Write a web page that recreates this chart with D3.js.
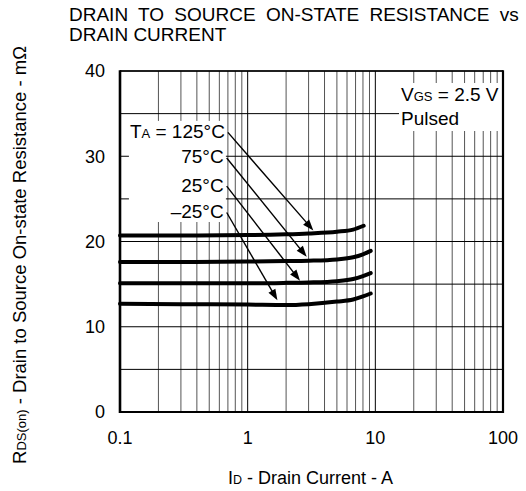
<!DOCTYPE html>
<html>
<head>
<meta charset="utf-8">
<script src="https://cdn.jsdelivr.net/npm/d3@7"></script>
<style>
  html, body { margin: 0; padding: 0; background: #fff; }
  svg { display: block; font-family: "Liberation Sans", Arial, Helvetica, sans-serif; }
</style>
</head>
<body>
<svg id="chart" width="526" height="491"></svg>
<script>
// ---- data ----
const titleLines = ["DRAIN TO SOURCE ON-STATE RESISTANCE vs", "DRAIN CURRENT"];
const xTicks = [0.1, 1, 10, 100];
const xTickLabels = ["0.1", "1", "10", "100"];
const yTicks = [0, 10, 20, 30, 40];
const yGrid = [0, 5, 10, 15, 20, 25, 30, 35, 40];
const temps = ["125°C", "75°C", "25°C", "–25°C"];

const id125 = [0.1, 0.3, 1, 2, 3, 5, 6.7, 8.1];
const rds125 = [20.7, 20.7, 20.75, 20.85, 20.95, 21.15, 21.4, 21.85];
const idLow = [0.1, 0.3, 1, 2, 3, 5, 6.7, 8, 9.2];
const rds75 = [17.6, 17.6, 17.65, 17.7, 17.75, 17.9, 18.15, 18.5, 18.9];
const rds25 = [15.1, 15.1, 15.1, 15.15, 15.2, 15.35, 15.6, 15.95, 16.3];
const rdsM25 = [12.7, 12.65, 12.6, 12.55, 12.65, 12.95, 13.2, 13.55, 13.9];

const arrowFromId = [0.70, 0.685, 0.685, 0.685];
const arrowFromR = [32.8, 29.8, 26.5, 23.4];
const arrowToId = [3.27, 2.90, 2.57, 1.71];
const arrowToR = [21.3, 18.2, 15.4, 13.1];

(function () {
// ---- layout ----
const svg = d3.select("#chart");
const pL = 120, pR = 503, pT = 71, pB = 412;
const x = d3.scaleLog().domain([0.1, 100]).range([pL, pR]);
const y = d3.scaleLinear().domain([0, 40]).range([pB, pT]);

svg.append("rect").attr("width", 526).attr("height", 491).attr("fill", "#fff");

// title
svg.append("text").attr("x", 69).attr("y", 21).attr("font-size", 19)
  .attr("word-spacing", "5px").text(titleLines[0]);
svg.append("text").attr("x", 69).attr("y", 40.5).attr("font-size", 19).text(titleLines[1]);

// grid
const grid = svg.append("g");
const vLines = [];
for (let k = -1; k <= 1; k++) for (let m = 1; m <= 9; m++) vLines.push(m * Math.pow(10, k));
grid.selectAll("line.v").data(vLines).enter().append("line")
  .attr("x1", d => x(d)).attr("x2", d => x(d)).attr("y1", pT).attr("y2", pB)
  .attr("stroke", d => (Math.abs(Math.log10(d) - Math.round(Math.log10(d))) < 1e-9) ? "#000" : "#555")
  .attr("stroke-width", 1);
grid.selectAll("line.h").data(yGrid).enter().append("line")
  .attr("x1", pL).attr("x2", pR).attr("y1", d => y(d)).attr("y2", d => y(d))
  .attr("stroke", "#000").attr("stroke-width", 1);

// curves
const line = d3.line().x(d => x(d[0])).y(d => y(d[1])).curve(d3.curveMonotoneX);
const series = [
  d3.zip(id125, rds125),
  d3.zip(idLow, rds75),
  d3.zip(idLow, rds25),
  d3.zip(idLow, rdsM25)
];
svg.append("g").selectAll("path").data(series).enter().append("path")
  .attr("d", line).attr("fill", "none").attr("stroke", "#000")
  .attr("stroke-width", 4).attr("stroke-linecap", "round");

// temperature labels with white background
const lblG = svg.append("g");
const lblBg = lblG.append("rect").attr("fill", "#fff");
const lblText = lblG.append("g").attr("font-size", 19).attr("text-anchor", "end");
temps.forEach((t, i) => {
  const tx = lblText.append("text")
    .attr("x", x(arrowFromId[i]) - 3)
    .attr("y", y(arrowFromR[i]) + 5.5);
  if (i === 0) {
    tx.append("tspan").text("T");
    tx.append("tspan").attr("font-size", 13).text("A");
    tx.append("tspan").text(" = " + t);
  } else {
    tx.text(t);
  }
});
{
  const b = lblText.node().getBBox();
  lblBg.attr("x", b.x - 1).attr("y", b.y).attr("width", b.width + 2).attr("height", b.height);
}

// arrows
const arrowG = svg.append("g");
temps.forEach((t, i) => {
  const x0 = x(arrowFromId[i]), y0 = y(arrowFromR[i]);
  const x1 = x(arrowToId[i]), y1 = y(arrowToR[i]);
  const dx = x1 - x0, dy = y1 - y0, L = Math.hypot(dx, dy);
  const ux = dx / L, uy = dy / L;
  const hl = 11, hw = 4;
  const bx = x1 - ux * hl, by = y1 - uy * hl;
  arrowG.append("line").attr("x1", x0).attr("y1", y0).attr("x2", bx + ux * 1).attr("y2", by + uy * 1)
    .attr("stroke", "#000").attr("stroke-width", 1.4);
  arrowG.append("path")
    .attr("d", `M${x1},${y1}L${bx - uy * hw},${by + ux * hw}L${bx + uy * hw},${by - ux * hw}Z`)
    .attr("fill", "#000");
});

// VGS legend box
const legG = svg.append("g");
const legBg = legG.append("rect").attr("fill", "#fff");
const legText = legG.append("g").attr("font-size", 19);
const l1 = legText.append("text").attr("x", 401).attr("y", 101);
l1.append("tspan").text("V");
l1.append("tspan").attr("font-size", 13).text("GS");
l1.append("tspan").text(" = 2.5 V");
legText.append("text").attr("x", 401).attr("y", 125).text("Pulsed");
{
  const b = legText.node().getBBox();
  legBg.attr("x", b.x - 2).attr("y", b.y - 1).attr("width", pR - (b.x - 2)).attr("height", b.height + 3);
}

// frame
const frame = svg.append("g").attr("stroke", "#000").attr("fill", "none");
frame.append("line").attr("x1", pL).attr("x2", pR).attr("y1", pT).attr("y2", pT).attr("stroke-width", 1.4);
frame.append("line").attr("x1", pL).attr("x2", pR).attr("y1", pB).attr("y2", pB).attr("stroke-width", 2.2);
frame.append("line").attr("x1", pL).attr("x2", pL).attr("y1", pT - 0.7).attr("y2", pB + 1.1).attr("stroke-width", 2.6);
frame.append("line").attr("x1", pR).attr("x2", pR).attr("y1", pT - 0.7).attr("y2", pB + 1.1).attr("stroke-width", 2.2);

// tick labels
svg.append("g").attr("font-size", 18).attr("text-anchor", "middle")
  .selectAll("text").data(xTicks).enter().append("text")
  .attr("x", d => x(d)).attr("y", 444).text((d, i) => xTickLabels[i]);
svg.append("g").attr("font-size", 18).attr("text-anchor", "end")
  .selectAll("text").data(yTicks).enter().append("text")
  .attr("x", 105).attr("y", d => y(d) + 6.3).text(d => d);

// axis titles
const xt = svg.append("text").attr("x", (pL + pR) / 2 - 1).attr("y", 484)
  .attr("font-size", 18).attr("text-anchor", "middle");
xt.append("tspan").text("I");
xt.append("tspan").attr("font-size", 12.5).text("D");
xt.append("tspan").text(" - Drain Current - A");

const yt = svg.append("text").attr("transform", "translate(26,255) rotate(-90)")
  .attr("font-size", 18.5).attr("text-anchor", "middle");
yt.append("tspan").text("R");
yt.append("tspan").attr("font-size", 13).text("DS(on)");
yt.append("tspan").text(" - Drain to Source On-state Resistance - mΩ");
})();
</script>
</body>
</html>
